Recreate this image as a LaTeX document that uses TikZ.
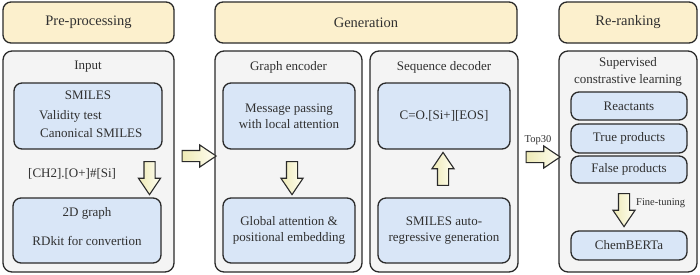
\documentclass[tikz,border=0pt]{standalone}
\usepackage{fontspec}
\setmainfont{Liberation Serif}
\newfontfamily\dfont{Liberation Serif}
\usetikzlibrary{shapes.arrows}
\definecolor{hdrfill}{HTML}{FCF0CD}
\definecolor{panelfill}{HTML}{F4F4F4}
\definecolor{boxfill}{HTML}{D9E6F7}
\definecolor{arrtail}{HTML}{EEEAB6}
\definecolor{arrtip}{HTML}{FFFEF2}
\definecolor{edge}{HTML}{2A2A2A}
\definecolor{txt}{HTML}{303030}
\tikzset{
  hdr/.style={draw=edge, line width=1.3pt, fill=hdrfill, rounded corners=8pt, inner sep=0pt, font=\dfont\fontsize{14.5}{17}\selectfont, text=txt},
  panel/.style={draw=edge, line width=1.3pt, fill=panelfill, rounded corners=9pt, inner sep=0pt},
  ibox/.style={draw=edge, line width=1.3pt, fill=boxfill, rounded corners=8pt, inner sep=0pt, font=\dfont\fontsize{13}{16}\selectfont, text=txt, align=center},
  lbl/.style={inner sep=0pt, font=\dfont\fontsize{13}{16}\selectfont, text=txt, align=center},
  small/.style={inner sep=0pt, font=\dfont\fontsize{10.5}{12}\selectfont, text=txt},
  barrow/.style={single arrow, draw=edge, line width=1.1pt, left color=arrtail, right color=arrtip, inner sep=5pt, single arrow head extend=5.5pt, single arrow tip angle=68, minimum height=33pt},
}
\begin{document}
\begin{tikzpicture}[x=1pt,y=-1pt]
\useasboundingbox (0,0) rectangle (700,274);
% headers
\node[hdr, minimum width=171pt, minimum height=41pt] (h1) at (88.5,22.5) {Pre-processing};
\node[hdr, minimum width=302pt, minimum height=41pt] (h2) at (366,22.5) {Generation};
\node[hdr, minimum width=138pt, minimum height=41pt] (h3) at (628,22.5) {Re-ranking};
% panels
\node[panel, minimum width=171pt, minimum height=221pt] (p1) at (88.5,161.5) {};
\node[panel, minimum width=147pt, minimum height=221pt] (p2) at (288.5,161.5) {};
\node[panel, minimum width=148pt, minimum height=221pt] (p3) at (444,161.5) {};
\node[panel, minimum width=138pt, minimum height=221pt] (p4) at (628,161.5) {};
% panel 1
\node[lbl] (tin) at (88,67) {Input};
\node[ibox, minimum width=148pt, minimum height=66pt] (smi) at (88,116) {};
\node[lbl] (tsmi) at (88,95) {SMILES};
\node[lbl, anchor=west] (tval) at (39,116) {Validity test};
\node[lbl, anchor=west] (tcan) at (40,133) {Canonical SMILES};
\node[lbl, anchor=west] (tch) at (28,174) {[CH2].[O+]\#[Si]};
\node[barrow, rotate=-90] (a1) at (149.5,174) {};
\node[ibox, minimum width=148pt, minimum height=65pt] (g2d) at (87,230.5) {};
\node[lbl] (t2d) at (87,213) {2D graph};
\node[lbl] (trd) at (87,241) {RDkit for convertion};
% arrow between panels
\node[barrow, minimum height=34pt] (a2) at (195,156) {};
% panel 2
\node[lbl] (tge) at (288.5,67) {Graph encoder};
\node[ibox, minimum width=132pt, minimum height=66pt] (msg) at (289,116) {Message passing\\with local attention};
\node[barrow, rotate=-90] (a3) at (292,174) {};
\node[ibox, minimum width=132pt, minimum height=65pt] (glo) at (289,230.5) {Global attention \&\\positional embedding};
% panel 3
\node[lbl] (tsd) at (444,67) {Sequence decoder};
\node[ibox, minimum width=132pt, minimum height=66pt] (out) at (444,116) {C=O.[Si+][EOS]};
\node[barrow, rotate=90] (a4) at (443,173) {};
\node[ibox, minimum width=132pt, minimum height=65pt] (sar) at (444,230.5) {SMILES auto-\\regressive generation};
% top30
\node[small] (ttop) at (538,140) {Top30};
\node[barrow, minimum height=34pt] (a5) at (539,157) {};
% panel 4
\node[lbl, font=\dfont\fontsize{13}{17}\selectfont] (tscl) at (628,71.5) {Supervised\\constrastive learning};
\node[ibox, minimum width=116pt, minimum height=28pt] (rea) at (629,106) {Reactants};
\node[ibox, minimum width=116pt, minimum height=29pt] (tru) at (629,138.5) {True products};
\node[ibox, minimum width=116pt, minimum height=27pt] (fal) at (629,169.5) {False products};
\node[barrow, rotate=-90] (a6) at (624,206) {};
\node[small, anchor=west] (tft) at (636,203) {Fine-tuning};
\node[ibox, minimum width=116pt, minimum height=29pt] (chem) at (629,245.5) {ChemBERTa};
\end{tikzpicture}
\end{document}
